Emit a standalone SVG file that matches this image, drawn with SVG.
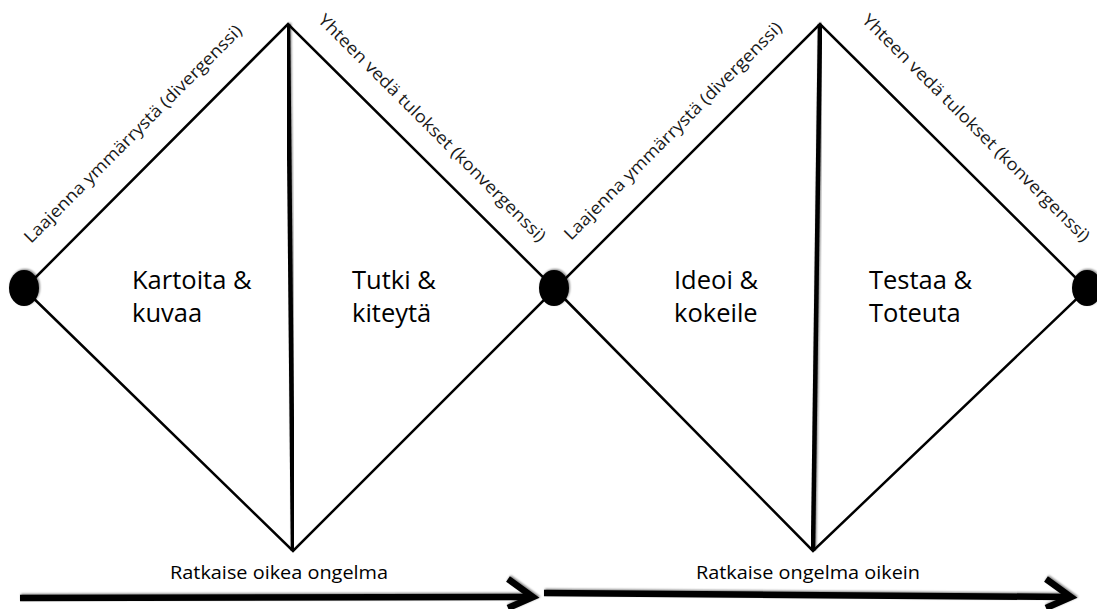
<svg xmlns="http://www.w3.org/2000/svg" width="1097" height="609" viewBox="0 0 1097 609">
<defs>
<style>
.edge{stroke:#000;stroke-width:2.5;fill:none;stroke-linecap:round}
.split{stroke:#000;stroke-width:4.5;fill:none}
.dot{fill:#000}
.lbl{font-family:"Open Sans","Liberation Sans",sans-serif;font-size:25.5px;fill:#000}
.side{font-family:"Open Sans","Liberation Sans",sans-serif;font-size:17px;fill:#1a1a1a}
.bot{font-family:"Open Sans","Liberation Sans",sans-serif;font-size:19px;fill:#000;text-anchor:middle}
.shaft{stroke:#000;stroke-width:6.5;fill:none}
.head{stroke:#000;stroke-width:6.5;fill:none;stroke-linejoin:miter;stroke-linecap:butt}
</style>
<filter id="sh" x="-20%" y="-20%" width="140%" height="140%">
<feGaussianBlur in="SourceAlpha" stdDeviation="1.2"/>
<feOffset dx="1" dy="-1" result="b"/>
<feComponentTransfer><feFuncA type="linear" slope="0.5"/></feComponentTransfer>
<feMerge><feMergeNode/><feMergeNode in="SourceGraphic"/></feMerge>
</filter>
</defs>
<rect width="1097" height="609" fill="#fff"/>

<g id="connectors">
<g id="diamond1">
<polyline class="edge" points="24,289 288,24 555,289 293,551 24,289"/>
<line class="split" x1="288" y1="24" x2="293" y2="551" filter="url(#sh)"/>
</g>
<g id="diamond2">
<polyline class="edge" points="555,289 820,24 1087,289 813,551 555,289"/>
<line class="split" x1="820" y1="24" x2="813" y2="551" filter="url(#sh)"/>
</g>
<g id="arrow1" filter="url(#sh)">
<line class="shaft" x1="20" y1="598" x2="532" y2="597"/>
<polyline class="head" points="508,579 533,597 508,608"/>
</g>
<g id="arrow2" filter="url(#sh)">
<line class="shaft" x1="544" y1="593" x2="1068" y2="597"/>
<polyline class="head" points="1046,579 1071,597 1046,608"/>
</g>
</g>

<g id="node-start"><ellipse class="dot" cx="24" cy="288" rx="15" ry="18" filter="url(#sh)"/></g>
<g id="node-middle"><ellipse class="dot" cx="554" cy="288" rx="15" ry="18" filter="url(#sh)"/></g>
<g id="node-end"><ellipse class="dot" cx="1087" cy="288" rx="15" ry="18" filter="url(#sh)"/></g>

<g id="phase-kartoita"><text class="lbl" x="132" y="289">Kartoita &amp;</text><text class="lbl" x="132" y="322">kuvaa</text></g>
<g id="phase-tutki"><text class="lbl" x="352" y="289">Tutki &amp;</text><text class="lbl" x="352" y="322">kiteytä</text></g>
<g id="phase-ideoi"><text class="lbl" x="674" y="289">Ideoi &amp;</text><text class="lbl" x="674" y="322">kokeile</text></g>
<g id="phase-testaa"><text class="lbl" x="869" y="289">Testaa &amp;</text><text class="lbl" x="869" y="322">Toteuta</text></g>

<g id="edge-labels">
<text class="side" transform="translate(31,244) rotate(-45)" textLength="300" lengthAdjust="spacingAndGlyphs">Laajenna ymmärrystä (divergenssi)</text>
<text class="side" transform="translate(317,21) rotate(45)" textLength="314" lengthAdjust="spacingAndGlyphs">Yhteen vedä tulokset (konvergenssi)</text>
<text class="side" transform="translate(571,241) rotate(-45)" textLength="300" lengthAdjust="spacingAndGlyphs">Laajenna ymmärrystä (divergenssi)</text>
<text class="side" transform="translate(861,21) rotate(45)" textLength="314" lengthAdjust="spacingAndGlyphs">Yhteen vedä tulokset (konvergenssi)</text>
</g>

<g id="bottom-labels">
<text class="bot" x="279" y="579" textLength="218" lengthAdjust="spacingAndGlyphs">Ratkaise oikea ongelma</text>
<text class="bot" x="808" y="579" textLength="224" lengthAdjust="spacingAndGlyphs">Ratkaise ongelma oikein</text>
</g>
</svg>
